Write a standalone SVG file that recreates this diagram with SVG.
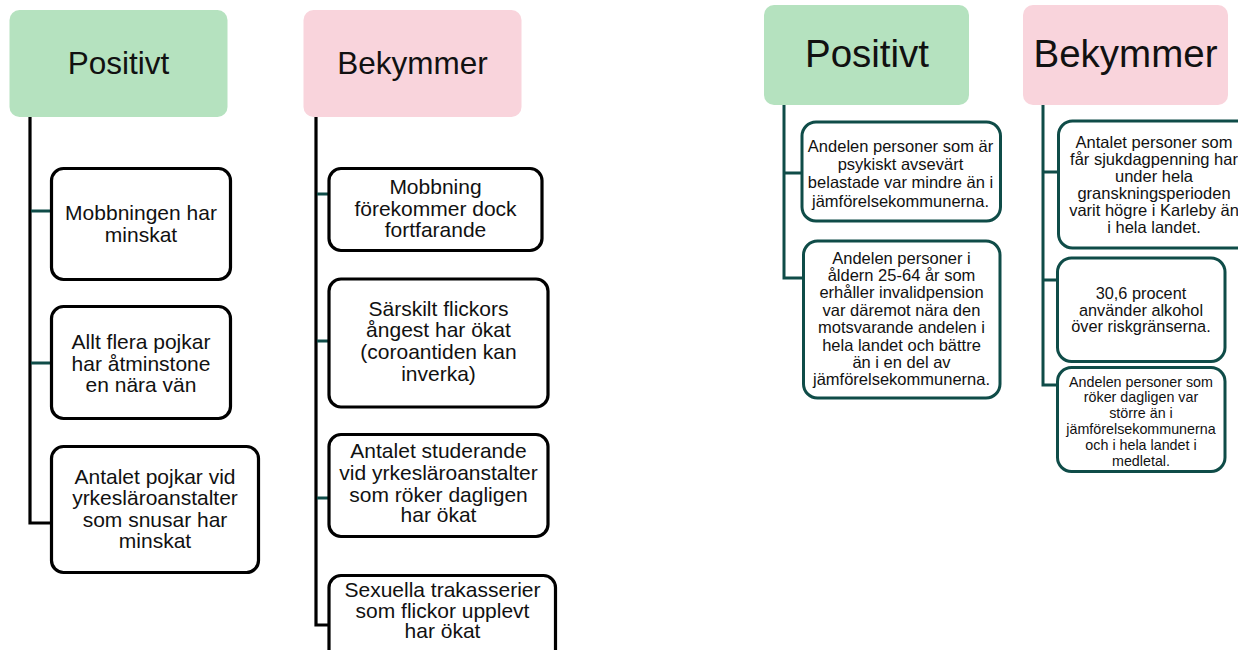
<svg xmlns="http://www.w3.org/2000/svg" width="1238" height="650" viewBox="0 0 1238 650">
<style>
text{font-family:"Liberation Sans",Arial,sans-serif;fill:#111;text-anchor:middle}
.hg{fill:#b5e2bf}
.hp{fill:#f9d4dc}
.h1{font-size:31.5px}
.h2{font-size:38.5px}
.bx{fill:#fff;stroke:#000;stroke-width:3.2}
.bt{fill:#fff;stroke:#0f4c48;stroke-width:3}
.t1{font-size:21px}
.t2{font-size:16.5px}
.t3{font-size:14.3px}
.t4{font-size:16.3px}
.vk{fill:none;stroke:#000;stroke-width:3.2}
.vt{fill:none;stroke:#0f4c48;stroke-width:3}
.st{stroke:#e4eaea;stroke-width:3}
</style>
<g id="connectors">
<path class="vk" d="M30,117 V523 H51"/>
<path class="vt" d="M31,211 H51 M31,363 H51"/>
<path class="vk" d="M316,117 V625 H330"/>
<path class="vt" d="M317,194 H331 M317,341 H331 M317,498 H331"/>
<path class="st" d="M331,194 H340 M331,341 H340 M331,498 H340 M331,625 H340"/>
<path class="vt" d="M784,105 V278 H803 M784,173 H802"/>
<path class="vt" d="M1043,105 V385 H1058 M1043,172 H1058 M1043,280 H1058"/>
</g>
<g id="pos1">
<rect class="hg" x="9.5" y="10" width="218" height="107" rx="10"/>
<text class="h1" x="118.5" y="73.5">Positivt</text>
</g>
<g id="bek1">
<rect class="hp" x="303.5" y="10" width="218" height="107" rx="10"/>
<text class="h1" x="412.5" y="73.5">Bekymmer</text>
</g>
<g id="p1">
<rect class="bx" x="51.5" y="168.5" width="179" height="111" rx="12"/>
<text class="t1" x="141"><tspan x="141" y="220">Mobbningen har</tspan><tspan x="141" y="242">minskat</tspan></text>
</g>
<g id="p2">
<rect class="bx" x="51.5" y="306.5" width="179" height="112" rx="12"/>
<text class="t1"><tspan x="141" y="349">Allt flera pojkar</tspan><tspan x="141" y="370.5">har åtminstone</tspan><tspan x="141" y="392">en nära vän</tspan></text>
</g>
<g id="p3">
<rect class="bx" x="51.5" y="446.5" width="207" height="126" rx="12"/>
<text class="t1"><tspan x="155" y="483.5">Antalet pojkar vid</tspan><tspan x="155" y="505">yrkesläroanstalter</tspan><tspan x="155" y="526.5">som snusar har</tspan><tspan x="155" y="548">minskat</tspan></text>
</g>
<g id="b1">
<rect class="bx" x="329" y="168.5" width="213" height="82" rx="12"/>
<text class="t1"><tspan x="435.5" y="194">Mobbning</tspan><tspan x="435.5" y="215.5">förekommer dock</tspan><tspan x="435.5" y="237">fortfarande</tspan></text>
</g>
<g id="b2">
<rect class="bx" x="329" y="279" width="219" height="128" rx="12"/>
<text class="t1"><tspan x="438.5" y="315.5">Särskilt flickors</tspan><tspan x="438.5" y="337.3">ångest har ökat</tspan><tspan x="438.5" y="359">(coroantiden kan</tspan><tspan x="438.5" y="380.7">inverka)</tspan></text>
</g>
<g id="b3">
<rect class="bx" x="329" y="434.5" width="219" height="102" rx="12"/>
<text class="t1"><tspan x="438.5" y="458.3">Antalet studerande</tspan><tspan x="438.5" y="480">vid yrkesläroanstalter</tspan><tspan x="438.5" y="501.7">som röker dagligen</tspan><tspan x="438.5" y="522.3">har ökat</tspan></text>
</g>
<g id="b4">
<rect class="bx" x="329" y="575.5" width="226.5" height="90" rx="12"/>
<text class="t1"><tspan x="442.5" y="596.7">Sexuella trakasserier</tspan><tspan x="442.5" y="617.7">som flickor upplevt</tspan><tspan x="442.5" y="638.3">har ökat</tspan></text>
</g>
<g id="pos2">
<rect class="hg" x="764" y="5" width="205" height="100" rx="10"/>
<text class="h2" x="867" y="67">Positivt</text>
</g>
<g id="bek2">
<rect class="hp" x="1023" y="5" width="205" height="100" rx="10"/>
<text class="h2" x="1125.5" y="67">Bekymmer</text>
</g>
<g id="r1">
<rect class="bt" x="802" y="122" width="198.5" height="99" rx="14"/>
<text class="t2"><tspan x="900.5" y="151.7">Andelen personer som är</tspan><tspan x="900.5" y="170">psykiskt avsevärt</tspan><tspan x="900.5" y="188.3">belastade var mindre än i</tspan><tspan x="900.5" y="206.7">jämförelsekommunerna.</tspan></text>
</g>
<g id="r2">
<rect class="bt" x="803.5" y="241" width="196.5" height="157" rx="14"/>
<text class="t2"><tspan x="901.5" y="263.5">Andelen personer i</tspan><tspan x="901.5" y="281">åldern 25-64 år som</tspan><tspan x="901.5" y="298.3">erhåller invalidpension</tspan><tspan x="901.5" y="315.7">var däremot nära den</tspan><tspan x="901.5" y="333">motsvarande andelen i</tspan><tspan x="901.5" y="350.5">hela landet och bättre</tspan><tspan x="901.5" y="367.8">än i en del av</tspan><tspan x="901.5" y="385.2">jämförelsekommunerna.</tspan></text>
</g>
<g id="k1">
<rect class="bt" x="1058.5" y="121" width="195" height="127" rx="14"/>
<text class="t2"><tspan x="1154" y="147.7">Antalet personer som</tspan><tspan x="1154" y="164.8">får sjukdagpenning har</tspan><tspan x="1154" y="181.8">under hela</tspan><tspan x="1154" y="198.8">granskningsperioden</tspan><tspan x="1154" y="215.8">varit högre i Karleby än</tspan><tspan x="1154" y="232.5">i hela landet.</tspan></text>
</g>
<g id="k2">
<rect class="bt" x="1057.5" y="258" width="167.5" height="103.5" rx="14"/>
<text class="t4"><tspan x="1141" y="299">30,6 procent</tspan><tspan x="1141" y="315.5">använder alkohol</tspan><tspan x="1141" y="331.7">över riskgränserna.</tspan></text>
</g>
<g id="k3">
<rect class="bt" x="1057.5" y="367.5" width="167.5" height="104" rx="14"/>
<text class="t3"><tspan x="1141" y="386.7">Andelen personer som</tspan><tspan x="1141" y="402.3">röker dagligen var</tspan><tspan x="1141" y="418.2">större än i</tspan><tspan x="1141" y="434.1">jämförelsekommunerna</tspan><tspan x="1141" y="450">och i hela landet i</tspan><tspan x="1141" y="465.5">medletal.</tspan></text>
</g>
</svg>
